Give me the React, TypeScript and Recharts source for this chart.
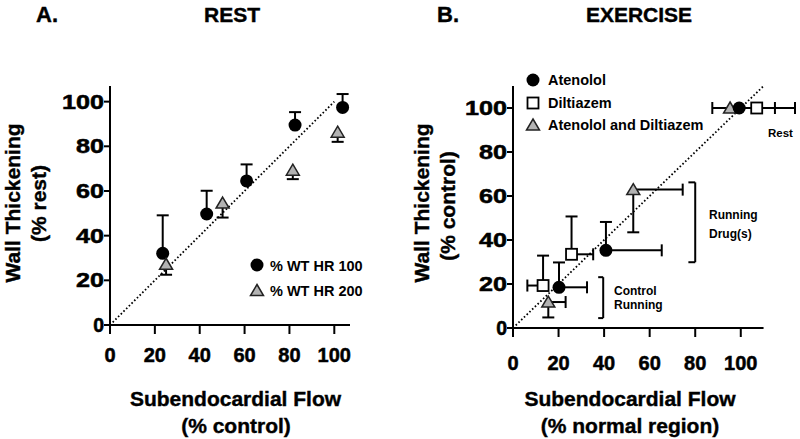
import React from 'react';
import { ScatterChart, Scatter, XAxis, YAxis, ErrorBar, ReferenceLine } from 'recharts';

const FONT = '"Liberation Sans", Arial, Helvetica, sans-serif';

// A. REST: subendocardial flow (% control) vs wall thickening (% rest)
const restFlowHR100 = [23.5, 43.1, 60.9, 82.5, 103.7];
const restWtHR100 = [32.1, 49.7, 64.5, 89.5, 97.4];
const restSdHR100 = [17, 10.4, 7.4, 5.8, 6];
const restFlowHR200 = [25, 50.2, 81.5, 101.5];
const restWtHR200 = [27.2, 54.6, 69.3, 86.3];
const restSdHR200 = [4.7, 6.5, 4, 4.3];

// B. EXERCISE: control running, running + drug(s), rest
// errors are [below, above]
const atenFlow = [20.2, 40.8, 99.3];
const atenWt = [18.5, 35.3, 100];
const atenFlowErr = [[0, 12.3], [0, 24.5], [0, 15.7]];
const atenWtErr = [[0, 11.3], [0, 12.9], [0, 0]];
const diltFlow = [13.2, 25.7, 107];
const diltWt = [19.3, 33.5, 100];
const diltFlowErr = [[6.9, 0], [0, 9.5], [0, 16.8]];
const diltWtErr = [[0, 13.6], [0, 17.2], [0, 0]];
const bothFlow = [15.5, 52.8, 95.3];
const bothWt = [11.8, 62.9, 100];
const bothFlowErr = [[0, 7.6], [0, 21.7], [7.8, 0]];
const bothWtErr = [[7, 0], [19.4, 0], [0, 0]];

const axisTicks = [0, 20, 40, 60, 80, 100];

type Row = { x: number; y: number; ex: number[]; ey: number[] };

const rows = (flow: number[], wt: number[], fErr: number[][], wErr: number[][]): Row[] =>
  flow.map((x, i) => ({ x, y: wt[i], ex: fErr[i], ey: wErr[i] }));

// end caps of the error bars (ErrorBar draws the whiskers only)
const capsOf = (rs: Row[]) =>
  rs.flatMap((r) => {
    const out: { x: number; y: number; dir: string }[] = [];
    if (r.ex[0]) out.push({ x: r.x - r.ex[0], y: r.y, dir: 'v' });
    if (r.ex[1]) out.push({ x: r.x + r.ex[1], y: r.y, dir: 'v' });
    if (r.ey[0]) out.push({ x: r.x, y: r.y - r.ey[0], dir: 'h' });
    if (r.ey[1]) out.push({ x: r.x, y: r.y + r.ey[1], dir: 'h' });
    return out;
  });

const zeros = (n: number) => Array.from({ length: n }, () => [0, 0]);

const hr100Rows = rows(restFlowHR100, restWtHR100, zeros(5), restSdHR100.map((s) => [0, s]));
const hr200Rows = rows(restFlowHR200, restWtHR200, zeros(4), restSdHR200.map((s) => [s, 0]));
const atenRows = rows(atenFlow, atenWt, atenFlowErr, atenWtErr);
const diltRows = rows(diltFlow, diltWt, diltFlowErr, diltWtErr);
const bothRows = rows(bothFlow, bothWt, bothFlowErr, bothWtErr);

const restCaps = capsOf([...hr100Rows, ...hr200Rows]);
const exCaps = capsOf([...atenRows, ...diltRows, ...bothRows]);

const Circle = (cx: number, cy: number) => <circle cx={cx} cy={cy} r={6.5} fill="#000" />;
const Square = (cx: number, cy: number) => (
  <rect x={cx - 5.5} y={cy - 5.5} width={11} height={11} fill="#fff" stroke="#000" strokeWidth={1.8} />
);
const Triangle = (cx: number, cy: number) => (
  <polygon
    points={`${cx},${cy - 6} ${cx + 6.5},${cy + 5} ${cx - 6.5},${cy + 5}`}
    fill="#b3b3b3"
    stroke="#222"
    strokeWidth={1.5}
  />
);

const Cap = (p: any) =>
  p.payload.dir === 'h' ? (
    <line x1={p.cx - 6} x2={p.cx + 6} y1={p.cy} y2={p.cy} stroke="#000" strokeWidth={2} />
  ) : (
    <line x1={p.cx} x2={p.cx} y1={p.cy - 6} y2={p.cy + 6} stroke="#000" strokeWidth={2} />
  );

const XTick = (p: any) => (
  <text
    x={p.x}
    y={p.y + p.off}
    textAnchor="middle"
    fontSize={20}
    fontWeight="bold"
    fontFamily={FONT}
    fill="#000"
    stroke="#000"
    strokeWidth={0.5}
  >
    {p.payload.value}
  </text>
);

const YTick = (p: any) => {
  const s = String(p.payload.value);
  const len = s.length === 3 ? 42 : s.length === 2 ? 28 : undefined;
  return (
    <text
      x={p.x}
      y={p.y + 7}
      textAnchor="end"
      fontSize={19.5}
      fontWeight="bold"
      fontFamily={FONT}
      fill="#000"
      stroke="#000"
      strokeWidth={0.5}
      textLength={len}
      lengthAdjust="spacingAndGlyphs"
    >
      {s}
    </text>
  );
};

const axisStroke = { stroke: '#000', strokeWidth: 2 };
const dotted = { stroke: '#000', strokeWidth: 1.8, strokeDasharray: '1.6 2.2' };

const RestPanel = () => (
  <ScatterChart width={400} height={439} margin={{ top: 86, right: 50, bottom: 84, left: 0 }}>
    <XAxis
      type="number"
      dataKey="x"
      domain={[0, 107]}
      ticks={axisTicks}
      interval={0}
      height={30}
      tickSize={9}
      tickMargin={2}
      axisLine={axisStroke}
      tickLine={axisStroke}
      tick={<XTick off={26} />}
    />
    <YAxis
      type="number"
      dataKey="y"
      domain={[0, 107]}
      ticks={axisTicks}
      interval={0}
      width={110}
      tickSize={6}
      tickMargin={0}
      axisLine={axisStroke}
      tickLine={axisStroke}
      tick={<YTick />}
    />
    <ReferenceLine segment={[{ x: 0, y: 0 }, { x: 100, y: 100 }]} {...dotted} />
    <Scatter data={restCaps} shape={Cap} isAnimationActive={false} />
    <Scatter data={hr100Rows} shape={(p: any) => Circle(p.cx, p.cy)} isAnimationActive={false}>
      <ErrorBar dataKey="ey" direction="y" width={0} stroke="#000" strokeWidth={2} />
    </Scatter>
    <Scatter data={hr200Rows} shape={(p: any) => Triangle(p.cx, p.cy)} isAnimationActive={false}>
      <ErrorBar dataKey="ey" direction="y" width={0} stroke="#000" strokeWidth={2} />
    </Scatter>
  </ScatterChart>
);

const ExercisePanel = () => (
  <ScatterChart width={400} height={439} margin={{ top: 86, right: 0, bottom: 81, left: 0 }}>
    <XAxis
      type="number"
      dataKey="x"
      domain={[0, 126]}
      ticks={axisTicks}
      interval={0}
      height={30}
      tickSize={9}
      tickMargin={2}
      axisLine={false}
      tickLine={axisStroke}
      tick={<XTick off={31} />}
    />
    <YAxis
      type="number"
      dataKey="y"
      domain={[0, 110]}
      ticks={axisTicks}
      interval={0}
      width={113}
      tickSize={6}
      tickMargin={0}
      axisLine={axisStroke}
      tickLine={axisStroke}
      tick={<YTick />}
    />
    <ReferenceLine segment={[{ x: 0, y: 0 }, { x: 110, y: 0 }]} {...axisStroke} />
    <ReferenceLine segment={[{ x: 0, y: 0 }, { x: 110, y: 110 }]} {...dotted} />
    {/* Running Drug(s) bracket */}
    <ReferenceLine segment={[{ x: 80, y: 29.9 }, { x: 80, y: 66.2 }]} {...axisStroke} />
    <ReferenceLine segment={[{ x: 77, y: 66.2 }, { x: 80, y: 66.2 }]} {...axisStroke} />
    <ReferenceLine segment={[{ x: 77, y: 29.9 }, { x: 80, y: 29.9 }]} {...axisStroke} />
    {/* Control Running bracket */}
    <ReferenceLine segment={[{ x: 39.6, y: 4.5 }, { x: 39.6, y: 23.1 }]} {...axisStroke} />
    <ReferenceLine segment={[{ x: 37.4, y: 23.1 }, { x: 39.6, y: 23.1 }]} {...axisStroke} />
    <ReferenceLine segment={[{ x: 37.4, y: 4.5 }, { x: 39.6, y: 4.5 }]} {...axisStroke} />
    <Scatter data={exCaps} shape={Cap} isAnimationActive={false} />
    <Scatter data={bothRows} shape={(p: any) => Triangle(p.cx, p.cy)} isAnimationActive={false}>
      <ErrorBar dataKey="ex" direction="x" width={0} stroke="#000" strokeWidth={2} />
      <ErrorBar dataKey="ey" direction="y" width={0} stroke="#000" strokeWidth={2} />
    </Scatter>
    <Scatter data={atenRows} shape={(p: any) => Circle(p.cx, p.cy)} isAnimationActive={false}>
      <ErrorBar dataKey="ex" direction="x" width={0} stroke="#000" strokeWidth={2} />
      <ErrorBar dataKey="ey" direction="y" width={0} stroke="#000" strokeWidth={2} />
    </Scatter>
    <Scatter data={diltRows} shape={(p: any) => Square(p.cx, p.cy)} isAnimationActive={false}>
      <ErrorBar dataKey="ex" direction="x" width={0} stroke="#000" strokeWidth={2} />
      <ErrorBar dataKey="ey" direction="y" width={0} stroke="#000" strokeWidth={2} />
    </Scatter>
  </ScatterChart>
);

const Texts = () => (
  <svg
    width={800}
    height={439}
    style={{ position: 'absolute', left: 0, top: 0, pointerEvents: 'none' }}
    fontFamily={FONT}
    fontWeight="bold"
    fill="#000"
  >
    <g stroke="#000" strokeWidth={0.4}>
      <text x={36} y={22} fontSize={22}>A.</text>
      <text x={232} y={22} fontSize={21} textAnchor="middle">REST</text>
      <text x={437} y={22} fontSize={22}>B.</text>
      <text x={639} y={22} fontSize={21} textAnchor="middle">EXERCISE</text>

      {/* axis titles */}
      <text transform="translate(20,203) rotate(-90)" fontSize={21} textAnchor="middle">Wall Thickening</text>
      <text transform="translate(45.5,203.5) rotate(-90)" fontSize={21} textAnchor="middle">(% rest)</text>
      <text transform="translate(428.5,203) rotate(-90)" fontSize={21} textAnchor="middle">Wall Thickening</text>
      <text transform="translate(455,206) rotate(-90)" fontSize={21} textAnchor="middle">(% control)</text>
      <text x={235.5} y={406} fontSize={21} textAnchor="middle">Subendocardial Flow</text>
      <text x={236} y={433} fontSize={21} textAnchor="middle">(% control)</text>
      <text x={630} y={406} fontSize={21} textAnchor="middle">Subendocardial Flow</text>
      <text x={630} y={433} fontSize={21} textAnchor="middle">(% normal region)</text>
    </g>

    {/* legend A */}
    {Circle(257, 265)}
    <text x={270} y={270.5} fontSize={14.5}>% WT HR 100</text>
    {Triangle(257, 290.5)}
    <text x={270} y={296} fontSize={14.5}>% WT HR 200</text>

    {/* legend B */}
    {Circle(533, 80)}
    <text x={548} y={85} fontSize={14.5}>Atenolol</text>
    {Square(533, 103)}
    <text x={548} y={108} fontSize={14.5}>Diltiazem</text>
    {Triangle(533, 125)}
    <text x={548} y={130} fontSize={14.5}>Atenolol and Diltiazem</text>

    {/* annotations */}
    <text x={768} y={136.5} fontSize={11.5}>Rest</text>
    <text x={709} y={219} fontSize={12}>Running</text>
    <text x={709} y={237.5} fontSize={12}>Drug(s)</text>
    <text x={614} y={295} fontSize={12}>Control</text>
    <text x={614} y={308.5} fontSize={12}>Running</text>
  </svg>
);

const App = () => (
  <div style={{ position: 'absolute', left: 0, top: 0, width: 800, height: 439, background: '#fff' }}>
    <div style={{ position: 'absolute', left: 0, top: 0 }}>
      <RestPanel />
    </div>
    <div style={{ position: 'absolute', left: 400, top: 0 }}>
      <ExercisePanel />
    </div>
    <Texts />
  </div>
);

export default App;
